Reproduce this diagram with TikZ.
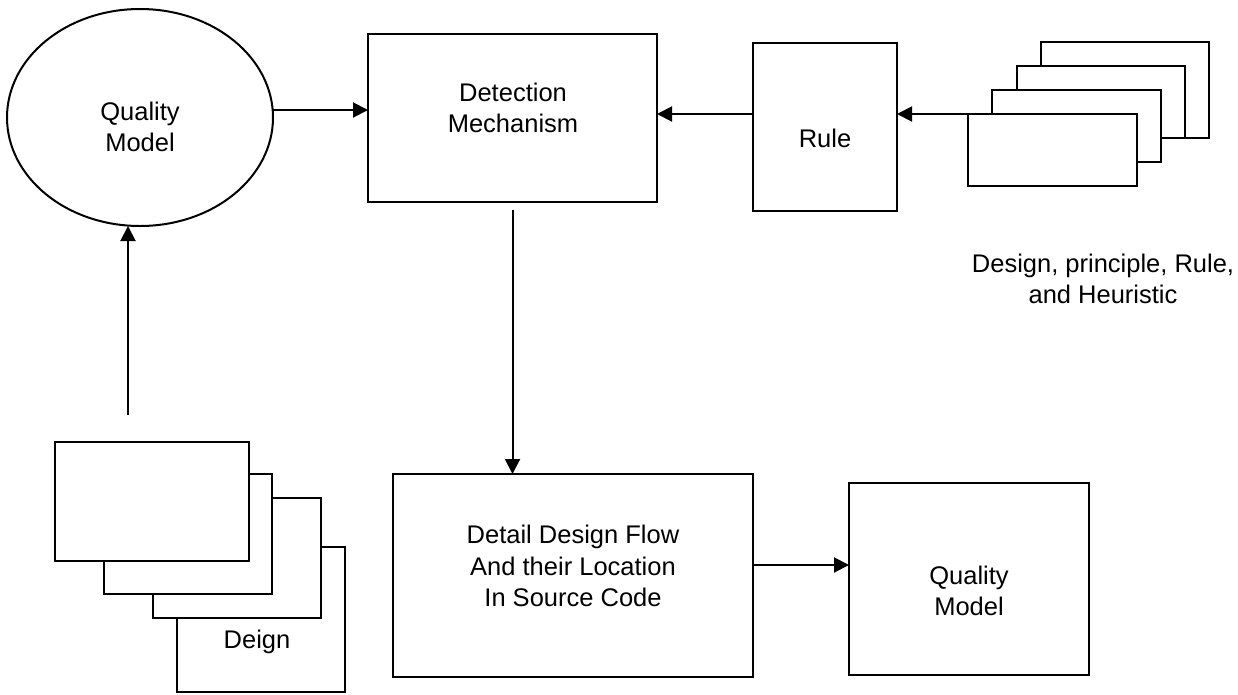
\documentclass[tikz,border=0pt]{standalone}
\usepackage{fontspec}
\setmainfont{Liberation Sans}
\usetikzlibrary{arrows.meta,shapes.geometric}
\begin{document}
\begin{tikzpicture}[x=1pt,y=-1pt,
  line width=2pt,
  every node/.style={inner sep=0pt,outer sep=0pt},
  label/.style={align=center,font=\fontsize{25.5}{31.5}\selectfont},
  card/.style={draw,fill=white,anchor=north west},
  arr/.style={-{Triangle[length=15pt,width=15pt]}}]
\useasboundingbox (0,0) rectangle (1238,694);

% quality model ellipse
\node[draw,ellipse,minimum width=266pt,minimum height=217pt] (qm) at (140,117.5) {};
\node[label] (qmt) at (140,127) {Quality\\Model};

% main processing boxes
\node[card,minimum width=289pt,minimum height=168pt] (det) at (368,34) {};
\node[label] (dett) at (513,108) {Detection\\Mechanism};
\node[card,minimum width=144pt,minimum height=168pt] (rule) at (753,43) {};
\node[label] (rulet) at (825,138) {Rule};
\node[card,minimum width=360pt,minimum height=203pt] (detail) at (393,474) {};
\node[label] (detailt) at (573,566) {Detail Design Flow\\And their Location\\In Source Code};
\node[card,minimum width=240pt,minimum height=192pt] (qm2) at (849,483) {};
\node[label] (qm2t) at (969,591) {Quality\\Model};

% stack of rule sources
\node[card,minimum width=168pt,minimum height=96pt] (s4) at (1041,42) {};
\node[card,minimum width=168pt,minimum height=72pt] (s3) at (1017,66) {};
\node[card,minimum width=169pt,minimum height=72pt] (s2) at (992,90) {};
\node[card,minimum width=169pt,minimum height=72pt] (s1) at (968,114) {};
\node[label] (srct) at (1103,279) {Design, principle, Rule,\\and Heuristic};

% stack of designs
\node[card,minimum width=168pt,minimum height=145pt] (b4) at (177,547) {};
\node[card,minimum width=168pt,minimum height=120pt] (b3) at (153,498) {};
\node[card,minimum width=168pt,minimum height=120pt] (b2) at (104,474) {};
\node[card,minimum width=194pt,minimum height=119pt] (b1) at (55,442) {};
\node[label] (deign) at (257,642) {Deign};

% connectors
\coordinate (up) at (128,415);
\draw[arr] (up) -- (up |- qm.south);
\draw[arr] ([yshift=7.5pt]qm.east) -- (det.west |- 0,110);
\draw[arr] (s1.north west) -- (rule.east |- s1.north west);
\draw[arr] (rule.west |- 0,114) -- (det.east |- 0,114);
\draw[arr] ([yshift=-8pt]det.south) -- (det.south |- detail.north);
\draw[arr] (detail.east |- 0,565) -- (qm2.west |- 0,565);
\end{tikzpicture}
\end{document}
